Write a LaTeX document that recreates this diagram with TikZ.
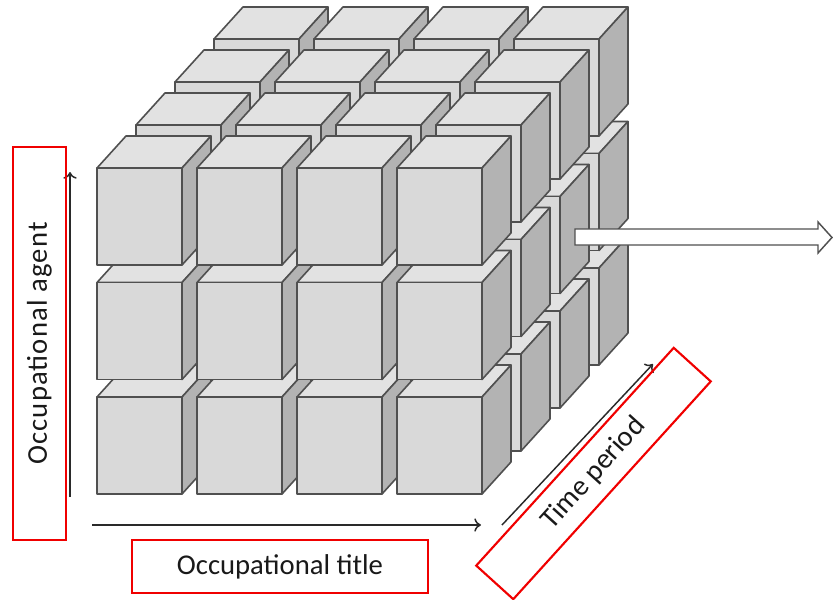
\documentclass[tikz,border=0pt]{standalone}
\usepackage{fontspec}
\setmainfont{Carlito}
\usetikzlibrary{arrows.meta}
\definecolor{frontc}{HTML}{D9D9D9}
\definecolor{topc}{HTML}{E2E2E2}
\definecolor{sidec}{HTML}{B3B3B3}
\definecolor{edgec}{HTML}{505050}
\definecolor{axisc}{HTML}{2A2A2A}
\definecolor{boxred}{HTML}{F00000}
\newcommand\drawcube[2]{%
  \filldraw[cubeedge, fill=topc] (#1,#2) -- ++(29,-32) -- ++(85,0) -- ++(-29,32) -- cycle;
  \filldraw[cubeedge, fill=sidec] (#1+85,#2) -- ++(29,-32) -- ++(0,97) -- ++(-29,32) -- cycle;
  \filldraw[cubeedge, fill=frontc] (#1,#2) rectangle ++(85,97);
}
\tikzset{
  cubeedge/.style={draw=edgec, line width=1.2pt, line join=round},
  axisline/.style={draw=axisc, line width=1.1pt, -{To[length=5pt,width=10pt]}},
  redbox/.style={draw=boxred, line width=1.6pt, inner sep=0pt, text=black!90,
    font=\fontsize{21.5}{25}\selectfont},
  hollowarrow/.style={draw=edgec, fill=white, line width=1.1pt, line join=miter}
}
\begin{document}
\begin{tikzpicture}[x=0.75pt, y=-0.75pt]
\useasboundingbox (0,0) rectangle (833,600);
% cubes, back to front, bottom to top, left to right
\foreach \k in {3,2,1,0} {
  \foreach \j in {2,1,0} {
    \foreach \i in {0,1,2,3} {
      \pgfmathsetmacro\cx{97+100*\i+39*\k}
      \pgfmathsetmacro\cy{168+114.5*\j-43*\k}
      \drawcube{\cx}{\cy}
    }
  }
}
% hollow arrow to the right
\filldraw[hollowarrow] (575,229) -- (818,229) -- (818,222) -- (832,237.5) -- (818,253) -- (818,245) -- (575,245) -- cycle;
% axes
\coordinate (vS) at (70,497);
\coordinate (vE) at (70,172);
\coordinate (hS) at (92,525);
\coordinate (hE) at (481,525);
\coordinate (dS) at (502,525);
\coordinate (dE) at (653,364);
\draw[axisline] (vS) -- (vE);
\draw[axisline] (hS) -- (hE);
\draw[axisline] (dS) -- (dE);
% labels
\node[redbox, rotate=90, minimum width=294.75pt, minimum height=39.75pt] (agent) at (39.5,343.5) {\addfontfeatures{LetterSpace=4}Occupational agent};
\node[redbox, minimum width=222pt, minimum height=39.75pt] (title) at (280,566.5) {Occupational title};
\node[redbox, rotate=47.8, minimum width=220.5pt, minimum height=37.5pt] (time) at (593.5,473.5) {Time period};
\end{tikzpicture}
\end{document}
